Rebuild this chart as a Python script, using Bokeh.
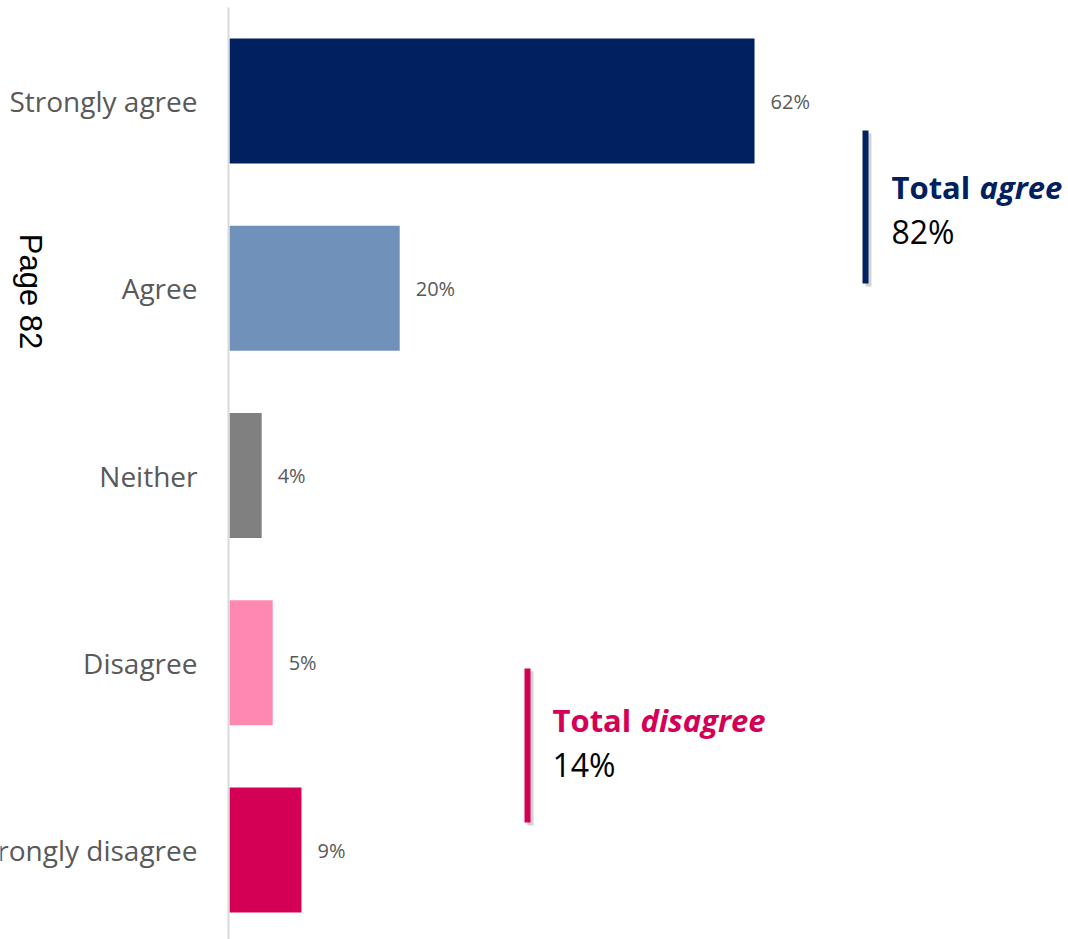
import math
from bokeh.plotting import figure
from bokeh.models import Range1d, ColumnDataSource, Label
from bokeh.core.properties import value
from bokeh.embed import file_html
from bokeh.resources import INLINE

# ---- data ----
categories = ["Strongly agree", "Agree", "Neither", "Disagree", "Strongly disagree"]
percent = [62.0, 20.1, 3.8, 5.1, 8.5]
percent_labels = ["62%", "20%", "4%", "5%", "9%"]
bar_colors = ["#002060", "#6F91BA", "#808080", "#FF88B2", "#D40055"]
total_agree = "82%"
total_disagree = "14%"
page_label = "Page 82"

# ---- layout helpers (pixel geometry of the canvas) ----
W, H = 1068, 939
AXIS_PX = 229.0          # x pixel of the zero line
PX_PER_PCT = 8.468       # pixels per percentage point
ROW0_PX = 100.5          # centre of first row
ROW_PX = 187.25          # row spacing


def dx(px):
    return (px - AXIS_PX) / PX_PER_PCT


def dy(py):
    return (py - ROW0_PX) / ROW_PX


p = figure(width=W, height=H, output_backend="svg", toolbar_location=None,
           x_range=Range1d(dx(0), dx(W)), y_range=Range1d(dy(H), dy(0)),
           min_border=0, min_border_left=0, min_border_right=0,
           min_border_top=0, min_border_bottom=0)
p.xaxis.visible = False
p.yaxis.visible = False
p.xgrid.visible = False
p.ygrid.visible = False
p.outline_line_color = None
p.background_fill_color = "white"
p.border_fill_color = "white"

idx = list(range(len(categories)))
src = ColumnDataSource(dict(y=idx, v=percent, c=bar_colors, lab=percent_labels,
                            cat=categories, zero=[0] * len(idx)))

p.hbar(y="y", left=0, right="v", height=0.667, fill_color="c", line_color=None, source=src)

# zero line (category axis line)
p.segment(x0=[dx(228)], y0=[-0.5], x1=[dx(228)], y1=[len(categories) - 0.5 + 0.2],
          line_color="#D9D9D9", line_width=2)

# category labels
p.text(x="zero", y="y", text="cat", source=src, x_offset=-32,
       text_align="right", text_baseline="middle",
       text_font=value("Open Sans"), text_font_size="28px", text_color="#595959")

# value labels
p.text(x="v", y="y", text="lab", source=src, x_offset=16,
       text_align="left", text_baseline="middle",
       text_font=value("Open Sans"), text_font_size="20px", text_color="#595959")

# ---- bracket annotations ----
def bracket(x_px, y0_px, y1_px, color):
    sx = 3 / PX_PER_PCT
    sy = 3 / ROW_PX
    p.segment(x0=[dx(x_px) + sx], y0=[dy(y0_px) + sy], x1=[dx(x_px) + sx], y1=[dy(y1_px) + sy],
              line_color="#7F7F7F", line_alpha=0.35, line_width=6)
    p.segment(x0=[dx(x_px)], y0=[dy(y0_px)], x1=[dx(x_px)], y1=[dy(y1_px)],
              line_color=color, line_width=6)


def total_text(x_px, base_px, word, num, color):
    p.text(x=[dx(x_px)], y=[dy(base_px)], text=["Total"], text_align="left",
           text_baseline="alphabetic", text_font=value("Open Sans"),
           text_font_size="31px", text_font_style="bold", text_color=color)
    p.text(x=[dx(x_px)], y=[dy(base_px)], text=[word], x_offset=88, text_align="left",
           text_baseline="alphabetic", text_font=value("Open Sans"),
           text_font_size="31px", text_font_style="bold italic", text_color=color)
    p.text(x=[dx(x_px)], y=[dy(base_px + 45)], text=[num], text_align="left",
           text_baseline="alphabetic", text_font=value("Open Sans"),
           text_font_size="32px", text_color="black")


bracket(865, 130, 283, "#002060")
total_text(891, 186, "agree", total_agree, "#002060")

bracket(527, 668, 822, "#D40055")
total_text(552, 719, "disagree", total_disagree, "#D40055")

# rotated page label
p.add_layout(Label(x=dx(30), y=dy(291), text=page_label, angle=-math.pi / 2,
                   text_align="center", text_baseline="middle",
                   text_font="Liberation Sans", text_font_size="31px", text_color="black"))

open("out.html", "w").write(file_html(p, INLINE))
